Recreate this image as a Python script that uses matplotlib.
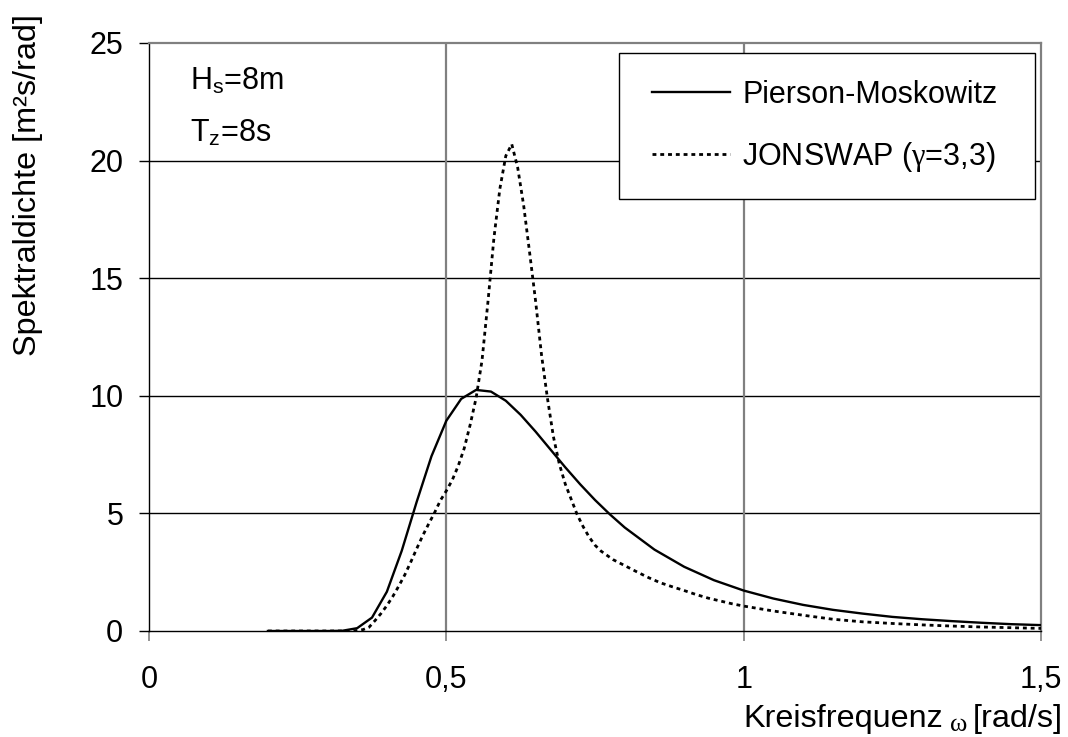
import matplotlib
matplotlib.use("Agg")
import matplotlib.pyplot as plt
from matplotlib.patches import Rectangle

# ---- data ----
omega_pm = [0.20, 0.25, 0.30, 0.325, 0.35, 0.375, 0.40, 0.425, 0.45, 0.475, 0.50,
            0.525, 0.55, 0.575, 0.60, 0.625, 0.65, 0.675, 0.70, 0.725, 0.75, 0.775,
            0.80, 0.85, 0.90, 0.95, 1.00, 1.05, 1.10, 1.15, 1.20, 1.25, 1.30, 1.35,
            1.40, 1.45, 1.50]
s_pm = [0.00, 0.00, 0.00, 0.01, 0.12, 0.57, 1.67, 3.41, 5.48, 7.43, 8.94,
        9.87, 10.25, 10.18, 9.79, 9.19, 8.48, 7.72, 6.96, 6.24, 5.57, 4.96,
        4.40, 3.46, 2.73, 2.16, 1.72, 1.38, 1.11, 0.90, 0.74, 0.60, 0.50, 0.42,
        0.35, 0.29, 0.25]

omega_js = [0.20, 0.30, 0.34, 0.35, 0.36, 0.37, 0.38, 0.39, 0.40, 0.41, 0.42, 0.43,
            0.44, 0.45, 0.46, 0.47, 0.48, 0.49, 0.50, 0.51, 0.52, 0.53, 0.54, 0.55,
            0.56, 0.57, 0.58, 0.59, 0.60, 0.61, 0.62, 0.63, 0.64, 0.65, 0.66, 0.67,
            0.68, 0.69, 0.70, 0.71, 0.72, 0.73, 0.74, 0.75, 0.76, 0.78, 0.80, 0.82,
            0.84, 0.86, 0.88, 0.90, 0.92, 0.94, 0.96, 0.98, 1.00, 1.05, 1.10, 1.15,
            1.20, 1.25, 1.30, 1.35, 1.40, 1.45, 1.50]
s_js = [0.00, 0.00, 0.00, 0.02, 0.06, 0.16, 0.44, 0.74, 1.08, 1.47, 1.91, 2.38,
        2.92, 3.49, 4.04, 4.54, 5.02, 5.55, 5.96, 6.42, 7.02, 7.76, 8.76, 9.90,
        11.5, 14.0, 16.7, 18.8, 20.2, 20.7, 19.7, 18.1, 16.1, 14.05, 11.75, 9.9,
        8.27, 7.1, 6.25, 5.6, 4.95, 4.44, 4.0, 3.65, 3.4, 3.04, 2.78, 2.52,
        2.27, 2.05, 1.88, 1.72, 1.55, 1.40, 1.28, 1.16, 1.06, 0.85, 0.67, 0.50,
        0.39, 0.32, 0.26, 0.21, 0.17, 0.14, 0.11]

x_ticks = [0, 0.5, 1.0, 1.5]
x_tick_labels = ["0", "0,5", "1", "1,5"]
y_ticks = [0, 5, 10, 15, 20, 25]
y_tick_labels = ["0", "5", "10", "15", "20", "25"]

label_pm = "Pierson-Moskowitz"
label_js = r"JONSWAP ($\gamma$=3,3)"

# ---- style ----
plt.rcParams["font.family"] = ["Liberation Sans", "DejaVu Sans"]
plt.rcParams["mathtext.fontset"] = "custom"
plt.rcParams["mathtext.rm"] = "Liberation Sans"
plt.rcParams["mathtext.it"] = "Liberation Serif"
plt.rcParams["mathtext.default"] = "it"
FS = 22
FS_LABEL = 23.3
W, H = 1068, 737

fig = plt.figure(figsize=(W / 100, H / 100), dpi=100)
ax = fig.add_axes([149 / W, 1 - 631 / H, 892 / W, 588 / H])

ax.set_xlim(0, 1.5)
ax.set_ylim(0, 25)


def px2ax(px, py):
    return (px - 149) / 892, (631 - py) / 588


# grid
for yv in y_ticks[1:-1]:
    ax.axhline(yv, color="black", lw=1.0, zorder=1)
for xv in x_ticks[1:-1]:
    ax.axvline(xv, color="#808080", lw=1.6, zorder=1)

ax.plot(omega_js, s_js, color="black", lw=2.0, linestyle=(0, (1.4, 1.4)),
        label=label_js, zorder=3, dash_capstyle="butt")
ax.plot(omega_pm, s_pm, color="black", lw=1.7, label=label_pm, zorder=4)

ax.set_xticks(x_ticks)
ax.set_xticklabels(x_tick_labels, fontsize=FS)
ax.set_yticks(y_ticks)
ax.set_yticklabels(y_tick_labels, fontsize=FS)
ax.tick_params(axis="x", direction="out", length=7.5, width=1.2, colors="#808080",
               labelcolor="black", pad=17)
ax.tick_params(axis="y", direction="out", length=7.5, width=1.0, colors="black",
               pad=11)

for s in ["top", "right"]:
    ax.spines[s].set_color("#808080")
    ax.spines[s].set_linewidth(1.6)
for s in ["left", "bottom"]:
    ax.spines[s].set_color("black")
    ax.spines[s].set_linewidth(1.0)

# legend frame (drawn explicitly) + legend entries
fx0, fy0 = px2ax(619, 199)
fx1, fy1 = px2ax(1035, 53)
ax.add_patch(Rectangle((fx0, fy0), fx1 - fx0, fy1 - fy0, transform=ax.transAxes,
                       facecolor="white", edgecolor="black", lw=1.0, zorder=4.5))
handles, labels = ax.get_legend_handles_labels()
order = [1, 0]
lx, ly = px2ax(652, 80)
leg = ax.legend([handles[i] for i in order], [labels[i] for i in order],
                loc="upper left", bbox_to_anchor=(lx, ly),
                borderaxespad=0, borderpad=0, fontsize=FS, frameon=False,
                handlelength=2.55, handletextpad=0.40, labelspacing=0.98)
leg.set_zorder(5)

tx, ty = px2ax(190, 90)
ax.text(tx, ty, r"H$_\mathrm{s}$=8m", transform=ax.transAxes,
        fontsize=FS, ha="left", va="baseline")
tx, ty = px2ax(190, 142)
ax.text(tx, ty, r"T$_\mathrm{z}$=8s", transform=ax.transAxes,
        fontsize=FS, ha="left", va="baseline")

# x label: "Kreisfrequenz ω [rad/s]" with a smaller, lowered serif ω
renderer = fig.canvas.get_renderer()
base_y = 727
t3 = fig.text(1063 / W, 1 - base_y / H, "[rad/s]", fontsize=FS_LABEL, ha="right",
              va="baseline")
b3 = t3.get_window_extent(renderer)
t2 = fig.text((b3.x0 - 6) / W, 1 - (base_y + 4) / H, "ω", fontsize=19,
              family="Liberation Serif", ha="right", va="baseline")
b2 = t2.get_window_extent(renderer)
t1 = fig.text((b2.x0 - 6) / W, 1 - base_y / H, "Kreisfrequenz", fontsize=FS_LABEL,
              ha="right", va="baseline")

fig.text(28 / W, 1 - 185 / H, "Spektraldichte [m²s/rad]", fontsize=FS_LABEL,
         rotation=90, ha="center", va="center")

fig.savefig("out.png", dpi=100)
